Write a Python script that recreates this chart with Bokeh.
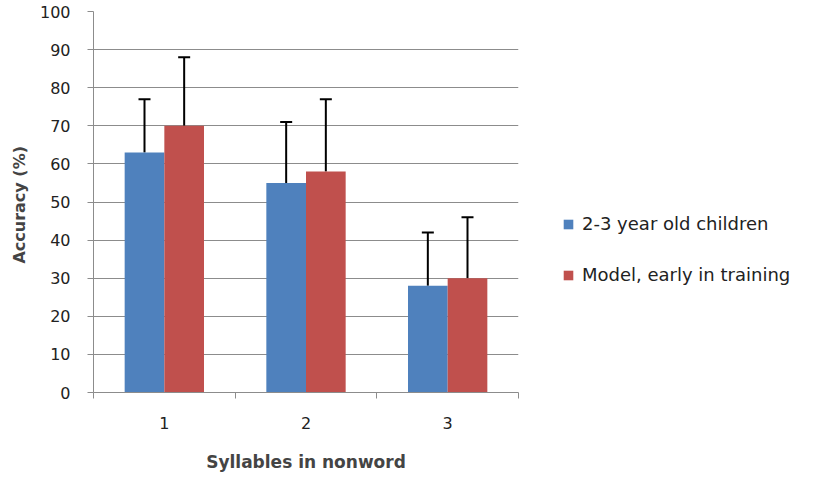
from bokeh.plotting import figure
from bokeh.models import Range1d, FixedTicker, Whisker, TeeHead, ColumnDataSource, Legend, LegendItem
from bokeh.embed import file_html
from bokeh.resources import INLINE
import numpy as np

categories = [1, 2, 3]
series_names = ["2-3 year old children", "Model, early in training"]
children = [63, 55, 28]
children_upper = [77, 71, 42]
model = [70, 58, 30]
model_upper = [88, 77, 46]
y_ticks = [0, 10, 20, 30, 40, 50, 60, 70, 80, 90, 100]

BLUE = "#4F81BD"
RED = "#C0504D"
GRID = "#8C8C8C"
FONT = "DejaVu Sans"

p = figure(frame_width=425, frame_height=381, output_backend="svg", toolbar_location=None,
           x_range=Range1d(0.5, 3.5), y_range=Range1d(0, 100),
           min_border_left=93, min_border_right=10, min_border_top=11, min_border_bottom=69)
p.outline_line_color = None

cats = np.array(categories, dtype=float)
off = 0.14
w = 0.28
src_c = ColumnDataSource(dict(x=cats - off, top=children, up=children_upper))
src_m = ColumnDataSource(dict(x=cats + off, top=model, up=model_upper))

r1 = p.vbar(x="x", top="top", width=w, bottom=0, source=src_c, fill_color=BLUE, line_color=None)
r2 = p.vbar(x="x", top="top", width=w, bottom=0, source=src_m, fill_color=RED, line_color=None)

for src in (src_c, src_m):
    wk = Whisker(base="x", lower="top", upper="up", source=src, dimension="height",
                 line_color="black", line_width=2,
                 upper_head=TeeHead(size=12, line_color="black", line_width=2),
                 lower_head=None)
    p.add_layout(wk)

# grid
p.xgrid.grid_line_color = None
p.ygrid.grid_line_color = GRID
p.ygrid.grid_line_width = 1
p.ygrid.ticker = FixedTicker(ticks=y_ticks)

# y axis
p.yaxis.ticker = FixedTicker(ticks=y_ticks)
p.yaxis.axis_line_color = GRID
p.yaxis.major_tick_line_color = GRID
p.yaxis.major_tick_out = 6
p.yaxis.major_tick_in = 0
p.yaxis.minor_tick_line_color = None
p.yaxis.major_label_text_font = FONT
p.yaxis.major_label_text_font_size = "16px"
p.yaxis.major_label_text_color = "#222222"
p.yaxis.major_label_standoff = 17
p.yaxis.axis_label = "Accuracy  (%)"
p.yaxis.axis_label_text_font = FONT
p.yaxis.axis_label_text_font_size = "16px"
p.yaxis.axis_label_text_font_style = "bold"
p.yaxis.axis_label_standoff = 8

# x axis
p.xaxis.ticker = FixedTicker(ticks=categories, minor_ticks=[0.5, 1.5, 2.5, 3.5])
p.xaxis.axis_line_color = GRID
p.xaxis.major_tick_line_color = None
p.xaxis.minor_tick_line_color = GRID
p.xaxis.minor_tick_out = 6
p.xaxis.minor_tick_in = 0
p.xaxis.major_label_text_font = FONT
p.xaxis.major_label_text_font_size = "16px"
p.xaxis.major_label_text_color = "#222222"
p.xaxis.major_label_standoff = 18
p.xaxis.axis_label = "Syllables in nonword"
p.xaxis.axis_label_text_font = FONT
p.xaxis.axis_label_text_font_size = "17px"
p.xaxis.axis_label_text_font_style = "bold"
p.xaxis.axis_label_standoff = 20

legend = Legend(items=[LegendItem(label=series_names[0], renderers=[r1]),
                       LegendItem(label=series_names[1], renderers=[r2])],
                location=(44, 107), orientation="vertical",
                glyph_width=12, glyph_height=12, label_height=20, spacing=30,
                padding=0, margin=0, border_line_color=None, background_fill_alpha=0,
                label_text_font=FONT, label_text_font_size="18px", label_text_color="#222222",
                label_standoff=8)
p.add_layout(legend, "right")

open("out.html", "w").write(file_html(p, INLINE))
